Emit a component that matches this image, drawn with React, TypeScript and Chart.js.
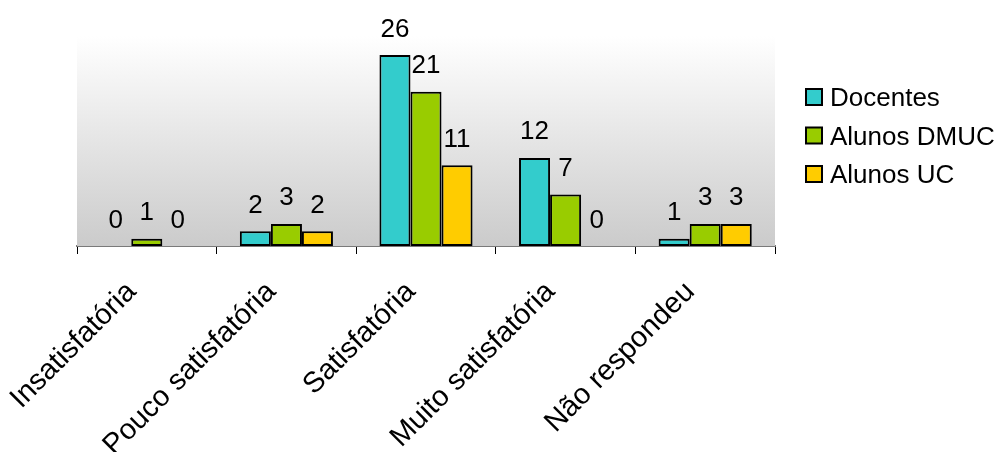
import React, { useEffect, useRef } from 'react';
import { Chart, registerables } from 'chart.js';

Chart.register(...registerables);

const categories = ['Insatisfatória', 'Pouco satisfatória', 'Satisfatória', 'Muito satisfatória', 'Não respondeu'];
const seriesNames = ['Docentes', 'Alunos DMUC', 'Alunos UC'];
const docentes = [0, 2, 26, 12, 1];
const alunosDMUC = [1, 3, 21, 7, 3];
const alunosUC = [0, 2, 11, 0, 3];
const seriesColors = ['#33CCCC', '#99CC00', '#FFCC00'];

const FONT = '"Liberation Sans", Arial, Helvetica, sans-serif';

const plotBackground = {
  id: 'plotBackground',
  beforeDatasetsDraw(chart: any) {
    const { ctx, chartArea: a } = chart;
    const g = ctx.createLinearGradient(0, a.top, 0, a.bottom);
    g.addColorStop(0, '#ffffff');
    g.addColorStop(1, '#cbcbcb');
    ctx.save();
    ctx.fillStyle = g;
    ctx.fillRect(a.left, a.top, a.right - a.left, a.bottom - a.top);
    ctx.restore();
  },
};

const valueLabels = {
  id: 'valueLabels',
  afterDatasetsDraw(chart: any) {
    const ctx = chart.ctx;
    ctx.save();
    ctx.font = `26px ${FONT}`;
    ctx.fillStyle = '#000';
    ctx.textAlign = 'center';
    ctx.textBaseline = 'alphabetic';
    chart.data.datasets.forEach((ds: any, i: number) => {
      const meta = chart.getDatasetMeta(i);
      meta.data.forEach((bar: any, j: number) => {
        ctx.fillText(String(ds.data[j]), bar.x, bar.y - 18.5);
      });
    });
    ctx.restore();
  },
};

const sideLegend = {
  id: 'sideLegend',
  afterDraw(chart: any) {
    const ctx = chart.ctx;
    const a = chart.chartArea;
    ctx.save();
    ctx.font = `26px ${FONT}`;
    ctx.textBaseline = 'alphabetic';
    ctx.textAlign = 'left';
    chart.data.datasets.forEach((ds: any, i: number) => {
      const top = a.top + 53 + i * 38.5;
      const x = a.right + 31;
      ctx.fillStyle = ds.backgroundColor;
      ctx.fillRect(x, top, 16, 16);
      ctx.lineWidth = 2;
      ctx.strokeStyle = '#000';
      ctx.strokeRect(x, top, 16, 16);
      ctx.fillStyle = '#000';
      ctx.fillText(ds.label, x + 24, top + 17);
    });
    ctx.restore();
  },
};

export default function App() {
  const ref = useRef<HTMLCanvasElement>(null);

  useEffect(() => {
    if (!ref.current) return;
    const seriesData = [docentes, alunosDMUC, alunosUC];
    const chart = new Chart(ref.current, {
      type: 'bar',
      data: {
        labels: categories,
        datasets: seriesNames.map((name, i) => ({
          label: name,
          data: seriesData[i],
          backgroundColor: seriesColors[i],
          borderColor: '#000',
          borderWidth: 2,
          borderSkipped: false,
          categoryPercentage: 0.667,
          barPercentage: 1,
        })),
      },
      options: {
        animation: false,
        responsive: false,
        layout: { padding: { left: 77, right: 223, top: 36, bottom: 0 } },
        plugins: {
          legend: { display: false },
          tooltip: { enabled: false },
        },
        scales: {
          x: {
            grid: {
              display: true,
              drawOnChartArea: false,
              drawTicks: true,
              tickLength: 8,
              color: '#000',
              lineWidth: 1,
              offset: true,
            },
            border: { display: true, color: '#7a7a7a', width: 2 },
            ticks: {
              font: { family: FONT, size: 29 },
              color: '#000',
              minRotation: 45,
              maxRotation: 45,
              autoSkip: false,
              padding: 21,
              labelOffset: -15,
            },
            afterFit: (s: any) => {
              s.height = 206;
            },
          },
          y: { display: false, min: 0, max: 28.6 },
        },
      },
      plugins: [plotBackground, valueLabels, sideLegend],
    });
    return () => chart.destroy();
  }, []);

  return (
    <div style={{ position: 'fixed', left: 0, top: 0, width: 998, height: 452, background: '#fff' }}>
      <canvas ref={ref} width={998} height={452} style={{ display: 'block' }} />
    </div>
  );
}
